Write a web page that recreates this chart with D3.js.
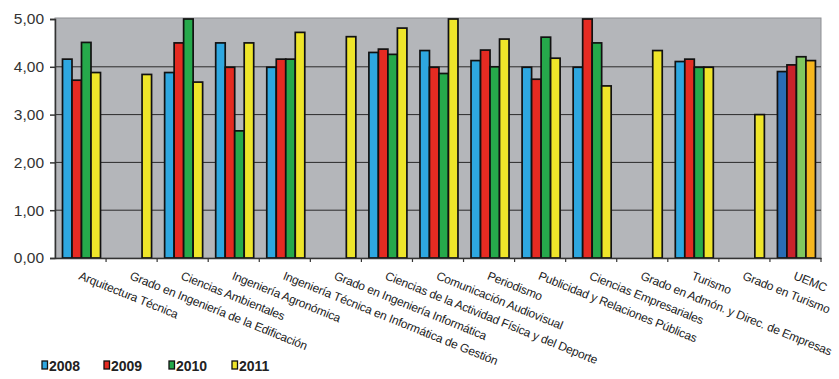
<!DOCTYPE html>
<html><head><meta charset="utf-8">
<script src="https://cdn.jsdelivr.net/npm/d3@7"></script>
<style>html,body{margin:0;padding:0;background:#fff;}svg{display:block;}</style>
</head><body>
<svg id="chart" width="839" height="379"></svg>
<script>
const categories = ["Arquitectura Técnica","Grado en Ingeniería de la Edificación","Ciencias Ambientales","Ingeniería Agronómica","Ingeniería Técnica en Informática de Gestión","Grado en Ingeniería Informática","Ciencias de la Actividad Física y del Deporte","Comunicación Audiovisual","Periodismo","Publicidad y Relaciones Públicas","Ciencias Empresariales","Grado en Admón. y Direc. de Empresas","Turismo","Grado en Turismo","UEMC"];
const seriesNames = ["2008","2009","2010","2011"];
const v2008 = [4.16, null, 3.88, 4.50, 3.99, null, 4.30, 4.34, 4.13, 3.99, 3.99, null, 4.11, null, 3.90];
const v2009 = [3.72, null, 4.50, 3.99, 4.16, null, 4.37, 3.99, 4.35, 3.74, 5.00, null, 4.16, null, 4.04];
const v2010 = [4.51, null, 5.00, 2.66, 4.16, null, 4.26, 3.86, 4.00, 4.62, 4.50, null, 3.99, null, 4.21];
const v2011 = [3.88, 3.84, 3.68, 4.50, 4.72, 4.63, 4.81, 5.00, 4.58, 4.18, 3.60, 4.34, 3.99, 3.00, 4.13];
const yTicks = [0,1,2,3,4,5];

const values = [v2008, v2009, v2010, v2011];
const colors = ["#2ea7e0","#e52b22","#26a94b","#eee52a"];
const totalColors = ["#2a6db6","#c9222b","#80c75f","#f6b61e"];

const svg = d3.select("#chart");
const L = 55, R = 821, T = 19, B = 258;

const x = d3.scaleBand().domain(categories).range([L, R]).paddingInner(0).paddingOuter(0);
const x1 = d3.scaleBand().domain(seriesNames).range([7.5, 45.5]).padding(0);
const y = d3.scaleLinear().domain([0,5]).range([B, T]);

// plot background
svg.append("rect").attr("x", L).attr("y", T-1).attr("width", R-L).attr("height", B-T+1)
  .attr("fill", "#b4b6ba").attr("stroke", "#8e9094").attr("stroke-width", 1);

// gridlines
svg.append("g").selectAll("line").data(yTicks.filter(d => d > 0 && d < 5)).join("line")
  .attr("x1", L).attr("x2", R).attr("y1", d => y(d)).attr("y2", d => y(d))
  .attr("stroke", "#2a2a2a").attr("stroke-width", 1);

// bars
const bars = [];
categories.forEach((c, i) => {
  seriesNames.forEach((s, j) => {
    const v = values[j][i];
    if (v != null) bars.push({c, s, j, v, total: c === "UEMC"});
  });
});
svg.append("g").selectAll("rect").data(bars).join("rect")
  .attr("x", d => x(d.c) + x1(d.s))
  .attr("y", d => y(d.v))
  .attr("width", x1.bandwidth())
  .attr("height", d => B - y(d.v))
  .attr("fill", d => d.total ? totalColors[d.j] : colors[d.j])
  .attr("stroke", "#111").attr("stroke-width", 1.7);

// y axis
const yAxis = d3.axisLeft(y).tickValues(yTicks).tickSize(5).tickPadding(6)
  .tickFormat(d => d3.format(".2f")(d).replace(".", ","));
const gy = svg.append("g").attr("transform", `translate(${L},0)`).call(yAxis);
gy.select(".domain").attr("stroke", "#333").attr("stroke-width", 1.5);
gy.selectAll(".tick line").attr("stroke", "#333").attr("stroke-width", 1.5);
gy.selectAll("text").attr("font-family", "Liberation Sans, Arial, sans-serif")
  .attr("font-size", 15.5).attr("fill", "#333");

// x axis
const xAxis = d3.axisBottom(x).tickSize(0).tickFormat("");
const gx = svg.append("g").attr("transform", `translate(0,${B})`).call(xAxis);
gx.select(".domain").attr("stroke", "#333").attr("stroke-width", 1.5);
// boundary ticks
gx.append("g").selectAll("line").data(categories).join("line")
  .attr("x1", d => x(d) + x.bandwidth()).attr("x2", d => x(d) + x.bandwidth())
  .attr("y1", 0).attr("y2", 4).attr("stroke", "#333").attr("stroke-width", 1.2);

// category labels
svg.append("g").selectAll("text").data(categories).join("text")
  .attr("transform", d => `translate(${x(d) + x.bandwidth()/2 + 1},270) rotate(22)`)
  .attr("dy", "0.8em")
  .attr("font-family", "Liberation Sans, Arial, sans-serif")
  .attr("font-size", 12).attr("letter-spacing", "-0.2px").attr("fill", "#222")
  .text(d => d);

// legend
const legendX = [42, 104, 169, 232];
const lg = svg.append("g").selectAll("g").data(seriesNames).join("g")
  .attr("transform", (d, i) => `translate(${legendX[i]},360)`);
lg.append("rect").attr("x", 0).attr("y", 1).attr("width", 5.5).attr("height", 8)
  .attr("fill", (d, i) => colors[i]).attr("stroke", "#111").attr("stroke-width", 1.3);
lg.append("text").attr("x", 7).attr("y", 11)
  .attr("font-family", "Liberation Sans, Arial, sans-serif").attr("font-weight", "bold")
  .attr("font-size", 14).attr("fill", "#222")
  .text(d => d);
</script>
</body></html>
